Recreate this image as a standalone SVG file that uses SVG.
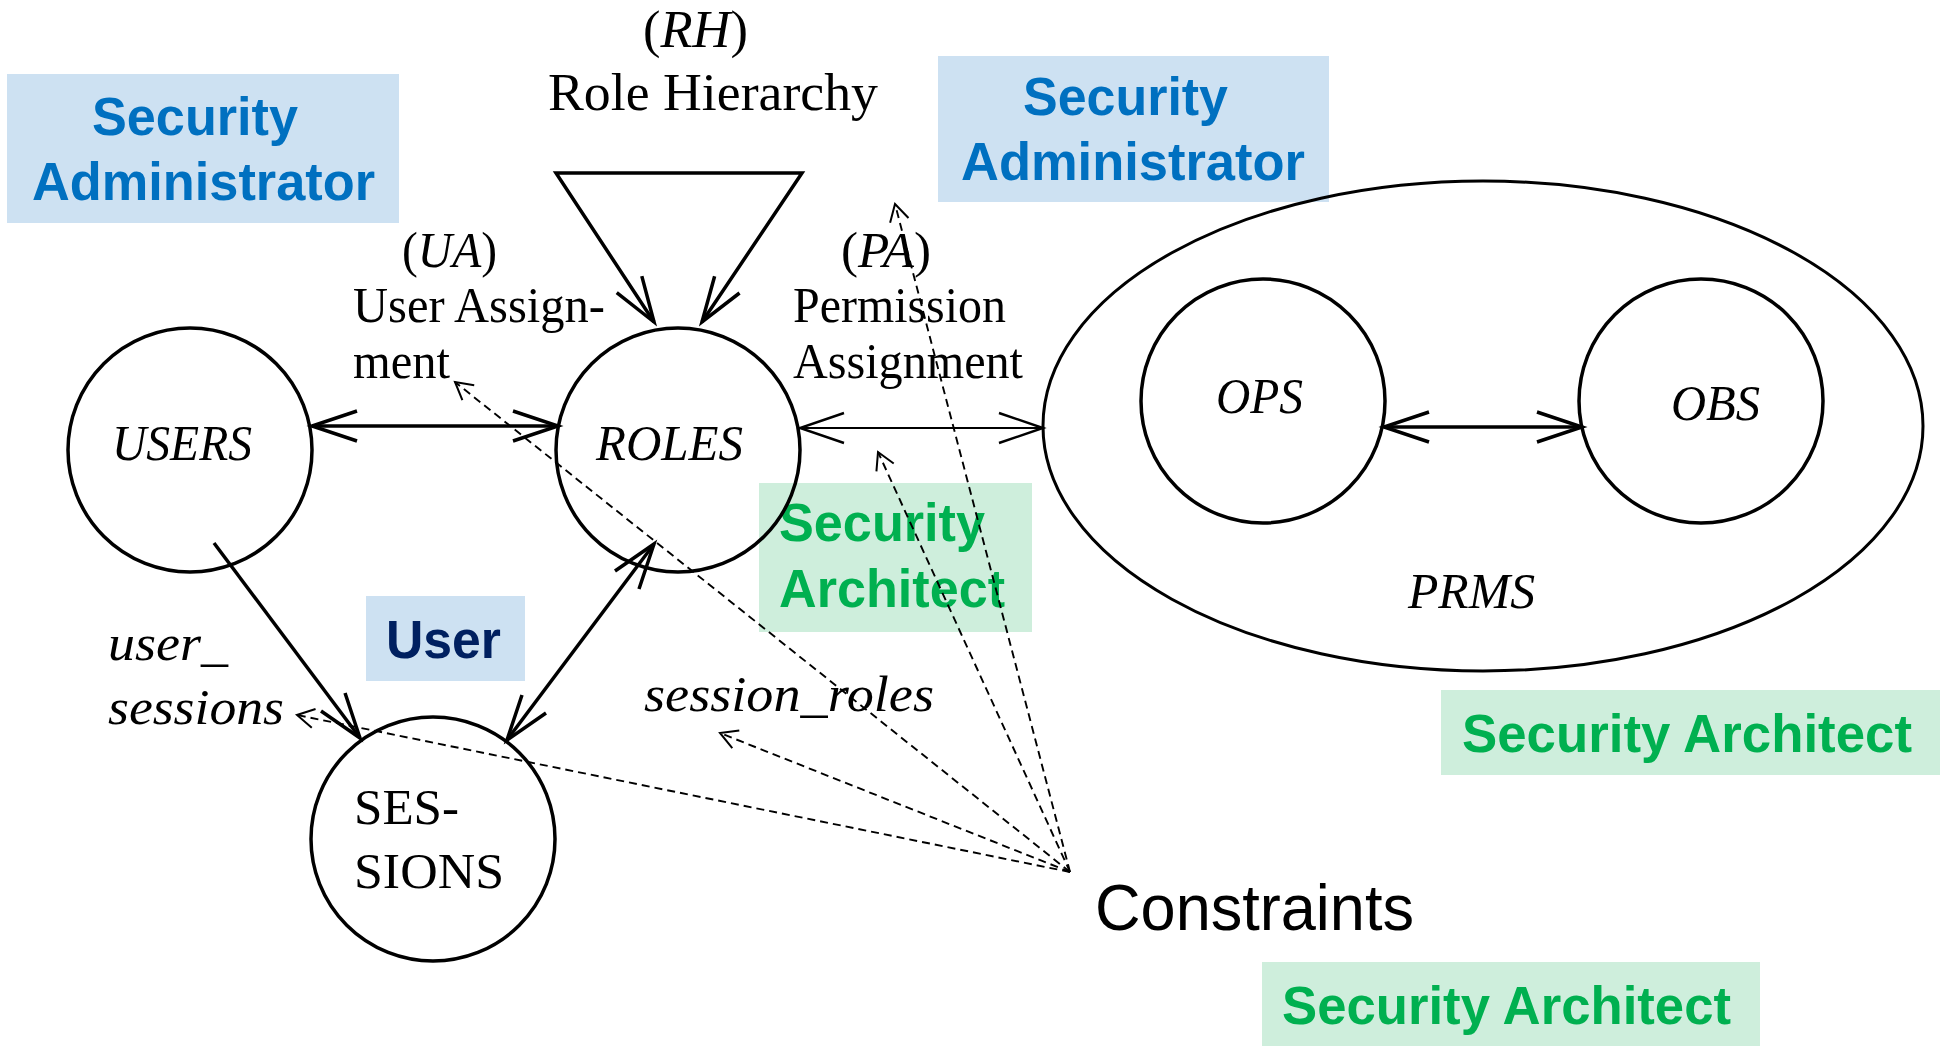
<svg xmlns="http://www.w3.org/2000/svg" width="1942" height="1046" viewBox="0 0 1942 1046">
<style>
.bg{fill:#ffffff}
.node{fill:none;stroke:#000;stroke-width:3.5}
.tm{font-family:"Liberation Serif","Times New Roman",serif;font-size:51px;fill:#000}
.it{font-style:italic}
.lbl{font-family:"Liberation Sans",Arial,sans-serif;font-weight:bold;font-size:53px}
.blue{fill:#0070C0}
.green{fill:#00B050}
.navy{fill:#002060}
.bbox{fill:#CDE1F2}
.gbox{fill:#CEEEDC}
.thick{fill:none;stroke:#000;stroke-width:3.5;stroke-linejoin:miter}
.thin{fill:none;stroke:#000;stroke-width:2.2}
.dash{fill:none;stroke:#000;stroke-width:1.9;stroke-dasharray:8 5}
</style>
<defs>
<marker id="ah" markerUnits="userSpaceOnUse" markerWidth="60" markerHeight="40" refX="48" refY="20" orient="auto-start-reverse" overflow="visible">
<path d="M3,5 L48,20 L3,35" fill="none" stroke="#000" stroke-width="3.5"/>
</marker>
<marker id="ahs" markerUnits="userSpaceOnUse" markerWidth="60" markerHeight="40" refX="48" refY="20" orient="auto-start-reverse" overflow="visible">
<path d="M4,5 L48,20 L4,35" fill="none" stroke="#000" stroke-width="2.4"/>
</marker>
<marker id="dh" markerUnits="userSpaceOnUse" markerWidth="24" markerHeight="24" refX="19" refY="10" orient="auto" overflow="visible">
<path d="M2,0.5 L19,10 L2,19.5" fill="none" stroke="#000" stroke-width="2"/>
</marker>
</defs>
<rect class="bg" x="0" y="0" width="1942" height="1046"/>

<g id="label-sec-admin-left">
<rect class="bbox" x="7" y="74" width="392" height="149"/>
<text class="lbl blue" x="92" y="135" textLength="206" lengthAdjust="spacingAndGlyphs">Security</text>
<text class="lbl blue" x="32" y="200" textLength="343" lengthAdjust="spacingAndGlyphs">Administrator</text>
</g>
<g id="label-sec-admin-right">
<rect class="bbox" x="938" y="56" width="391" height="146"/>
<text class="lbl blue" x="1023" y="115" textLength="205" lengthAdjust="spacingAndGlyphs">Security</text>
<text class="lbl blue" x="961" y="180" textLength="344" lengthAdjust="spacingAndGlyphs">Administrator</text>
</g>
<g id="label-sec-arch-mid">
<rect class="gbox" x="759" y="483" width="273" height="149"/>
<text class="lbl green" x="779" y="541" textLength="206" lengthAdjust="spacingAndGlyphs">Security</text>
<text class="lbl green" x="779" y="607" textLength="226" lengthAdjust="spacingAndGlyphs">Architect</text>
</g>
<g id="label-sec-arch-right">
<rect class="gbox" x="1441" y="690" width="499" height="85"/>
<text class="lbl green" x="1462" y="752" textLength="450" lengthAdjust="spacingAndGlyphs">Security Architect</text>
</g>
<g id="label-sec-arch-bottom">
<rect class="gbox" x="1262" y="962" width="498" height="84"/>
<text class="lbl green" x="1282" y="1024" textLength="449" lengthAdjust="spacingAndGlyphs">Security Architect</text>
</g>
<g id="label-user">
<rect class="bbox" x="366" y="596" width="159" height="85"/>
<text class="lbl navy" x="386" y="658" textLength="115" lengthAdjust="spacingAndGlyphs">User</text>
</g>

<g id="node-users">
<circle class="node" cx="190" cy="450" r="122"/>
<text class="tm it" x="112" y="460" textLength="140" lengthAdjust="spacingAndGlyphs">USERS</text>
</g>
<g id="node-roles">
<circle class="node" cx="678" cy="450" r="122"/>
<text class="tm it" x="596" y="460" textLength="147" lengthAdjust="spacingAndGlyphs">ROLES</text>
</g>
<g id="node-sessions">
<circle class="node" cx="433" cy="839" r="122"/>
<text class="tm" x="354" y="824" textLength="105" lengthAdjust="spacingAndGlyphs">SES-</text>
<text class="tm" x="354" y="888" textLength="150" lengthAdjust="spacingAndGlyphs">SIONS</text>
</g>
<g id="node-prms">
<ellipse class="node" cx="1483" cy="426" rx="440" ry="245" style="stroke-width:3"/>
<text class="tm it" x="1408" y="608" textLength="127" lengthAdjust="spacingAndGlyphs">PRMS</text>
</g>
<g id="node-ops">
<circle class="node" cx="1263" cy="401" r="122"/>
<text class="tm it" x="1216" y="413" textLength="87" lengthAdjust="spacingAndGlyphs">OPS</text>
</g>
<g id="node-obs">
<circle class="node" cx="1701" cy="401" r="122"/>
<text class="tm it" x="1671" y="420" textLength="89" lengthAdjust="spacingAndGlyphs">OBS</text>
</g>

<g id="connectors">
<path class="thick" d="M654,322 L556,173 L802,173 L702,322" marker-start="url(#ah)" marker-end="url(#ah)"/>
<path class="thick" d="M312,426 L558,426" marker-start="url(#ah)" marker-end="url(#ah)"/>
<path class="thin" d="M800,428 L1043,428" marker-start="url(#ahs)" marker-end="url(#ahs)"/>
<path class="thick" d="M1384,427 L1582,427" marker-start="url(#ah)" marker-end="url(#ah)"/>
<path class="thick" d="M214,543 L360,738" marker-end="url(#ah)"/>
<path class="thick" d="M507,740 L654,544" marker-start="url(#ah)" marker-end="url(#ah)"/>
<path class="dash" d="M1070,872 L455,382" marker-end="url(#dh)"/>
<path class="dash" d="M1070,872 L895,204" marker-end="url(#dh)"/>
<path class="dash" d="M1070,872 L878,452" marker-end="url(#dh)"/>
<path class="dash" d="M1070,872 L720,733" marker-end="url(#dh)"/>
<path class="dash" d="M1070,872 L297,715" marker-end="url(#dh)"/>
</g>

<g id="edge-labels">
<text class="tm" x="643" y="47" textLength="105" lengthAdjust="spacingAndGlyphs" style="font-size:52px">(<tspan class="it">RH</tspan>)</text>
<text class="tm" x="548" y="110" textLength="330" lengthAdjust="spacingAndGlyphs" style="font-size:52px">Role Hierarchy</text>
<text class="tm" x="402" y="267" textLength="95" lengthAdjust="spacingAndGlyphs">(<tspan class="it">UA</tspan>)</text>
<text class="tm" x="353" y="322" textLength="252" lengthAdjust="spacingAndGlyphs">User Assign-</text>
<text class="tm" x="353" y="378" textLength="97" lengthAdjust="spacingAndGlyphs">ment</text>
<text class="tm" x="841" y="267" textLength="90" lengthAdjust="spacingAndGlyphs">(<tspan class="it">PA</tspan>)</text>
<text class="tm" x="793" y="322" textLength="213" lengthAdjust="spacingAndGlyphs">Permission</text>
<text class="tm" x="793" y="378" textLength="230" lengthAdjust="spacingAndGlyphs">Assignment</text>
<text class="tm it" x="108" y="660" textLength="120" lengthAdjust="spacingAndGlyphs">user_</text>
<text class="tm it" x="108" y="724" textLength="176" lengthAdjust="spacingAndGlyphs">sessions</text>
<text class="tm it" x="644" y="711" textLength="290" lengthAdjust="spacingAndGlyphs">session_roles</text>
<text x="1095" y="930" style="font-family:'Liberation Sans',Arial,sans-serif;font-size:65px;fill:#000" textLength="319" lengthAdjust="spacingAndGlyphs">Constraints</text>
</g>
</svg>
